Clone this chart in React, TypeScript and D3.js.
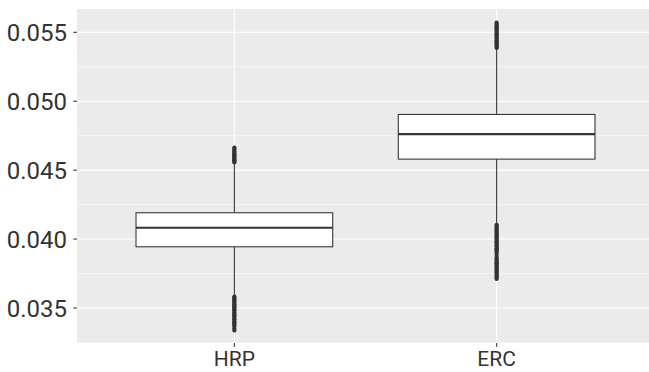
import React from "react";
import * as d3 from "d3";

// groups and box statistics
const groups = ["HRP", "ERC"];
const q1 = [0.03944, 0.0458];
const medians = [0.04082, 0.04761];
const q3 = [0.04191, 0.04904];
const whiskerLow = [0.0359, 0.0411];
const whiskerHigh = [0.04551, 0.05379];

// outliers, per group
const hrpOutliers = [
  0.04556, 0.04563, 0.04571, 0.04577, 0.04586, 0.04592, 0.04601, 0.04607, 0.04616,
  0.04622, 0.04632, 0.04639, 0.04647, 0.04655, 0.04664,
  0.03583, 0.03576, 0.03567, 0.03561, 0.03553, 0.03545, 0.03538, 0.03528, 0.03522,
  0.03512, 0.03505, 0.03496, 0.03489, 0.03481, 0.03470, 0.03463, 0.03454, 0.03447,
  0.03436, 0.03429, 0.03418, 0.03412, 0.03401, 0.03395, 0.03384, 0.03378, 0.03367,
  0.03351, 0.03337,
];
const ercOutliers = [
  0.05386, 0.05394, 0.05403, 0.05411, 0.05418, 0.05428, 0.05436, 0.05443, 0.05452,
  0.05461, 0.05468, 0.05477, 0.05485, 0.05494, 0.05502, 0.05511, 0.05519, 0.05527,
  0.05536, 0.05544, 0.05553, 0.05561, 0.0557,
  0.04104, 0.04096, 0.04087, 0.04079, 0.04069, 0.04062, 0.04052, 0.04044, 0.04036,
  0.04027, 0.04018, 0.0401, 0.04001, 0.03993, 0.03984, 0.03976, 0.03968, 0.03959,
  0.0395, 0.03943, 0.03933, 0.03926, 0.03917, 0.03909, 0.03898, 0.03884,
  0.03868, 0.03858, 0.03849, 0.0384, 0.03832, 0.03824, 0.03815, 0.03806, 0.03798,
  0.0379, 0.03781, 0.03773, 0.03763, 0.03756, 0.03746, 0.03739, 0.03729, 0.03721,
  0.03711,
];
const outliers = [hrpOutliers, ercOutliers];

const yTicks = [0.035, 0.04, 0.045, 0.05, 0.055];
const yMinor = [0.0325, 0.0375, 0.0425, 0.0475, 0.0525];

const W = 649;
const H = 372;
const panel = { left: 77, top: 9, right: 654, bottom: 343 };

export default function App() {
  const x = d3
    .scalePoint<string>()
    .domain(groups)
    .range([panel.left, panel.right])
    .padding(0.6);
  const y = d3
    .scaleLinear()
    .domain([0.03246, 0.05669])
    .range([panel.bottom, panel.top]);
  const bw = x.step() * 0.75;
  const ink = "#333333";
  const font = "Roboto, 'Liberation Sans', Arial, sans-serif";

  return (
    <div style={{ position: "absolute", left: 0, top: 0 }}>
      <svg width={W} height={H} style={{ display: "block", background: "#fff" }}>
        <rect
          x={panel.left}
          y={panel.top}
          width={panel.right - panel.left}
          height={panel.bottom - panel.top}
          fill="#EBEBEB"
        />
        {yMinor.map((t) => (
          <line key={"mn" + t} x1={panel.left} x2={panel.right} y1={y(t)} y2={y(t)} stroke="#fff" strokeWidth={0.55} />
        ))}
        {yTicks.map((t) => (
          <line key={"mj" + t} x1={panel.left} x2={panel.right} y1={y(t)} y2={y(t)} stroke="#fff" strokeWidth={1.1} />
        ))}
        {groups.map((g) => (
          <line key={"vg" + g} x1={x(g)} x2={x(g)} y1={panel.top} y2={panel.bottom} stroke="#fff" strokeWidth={1.1} />
        ))}

        {groups.map((g, i) => {
          const cx = x(g) as number;
          return (
            <g key={g}>
              <line x1={cx} x2={cx} y1={y(q3[i])} y2={y(whiskerHigh[i])} stroke={ink} strokeWidth={1.07} />
              <line x1={cx} x2={cx} y1={y(q1[i])} y2={y(whiskerLow[i])} stroke={ink} strokeWidth={1.07} />
              <rect
                x={cx - bw / 2}
                y={y(q3[i])}
                width={bw}
                height={y(q1[i]) - y(q3[i])}
                fill="#fff"
                stroke={ink}
                strokeWidth={1.07}
              />
              <line x1={cx - bw / 2} x2={cx + bw / 2} y1={y(medians[i])} y2={y(medians[i])} stroke={ink} strokeWidth={2.1} />
              {outliers[i].map((v, k) => (
                <circle key={k} cx={cx} cy={y(v)} r={2.1} fill={ink} />
              ))}
            </g>
          );
        })}

        {yTicks.map((t) => (
          <g key={"yt" + t}>
            <line x1={panel.left - 3.7} x2={panel.left} y1={y(t)} y2={y(t)} stroke={ink} strokeWidth={1.07} />
            <text
              x={panel.left - 10}
              y={y(t)}
              dy="0.36em"
              textAnchor="end"
              fontFamily={font}
              fontSize={24}
              fill={ink}
            >
              {d3.format(".3f")(t)}
            </text>
          </g>
        ))}
        {groups.map((g) => (
          <g key={"xt" + g}>
            <line x1={x(g)} x2={x(g)} y1={panel.bottom} y2={panel.bottom + 3.7} stroke={ink} strokeWidth={1.07} />
            <text
              x={x(g)}
              y={panel.bottom + 23}
              textAnchor="middle"
              fontFamily={font}
              fontSize={21}
              fill={ink}
            >
              {g}
            </text>
          </g>
        ))}
      </svg>
    </div>
  );
}
